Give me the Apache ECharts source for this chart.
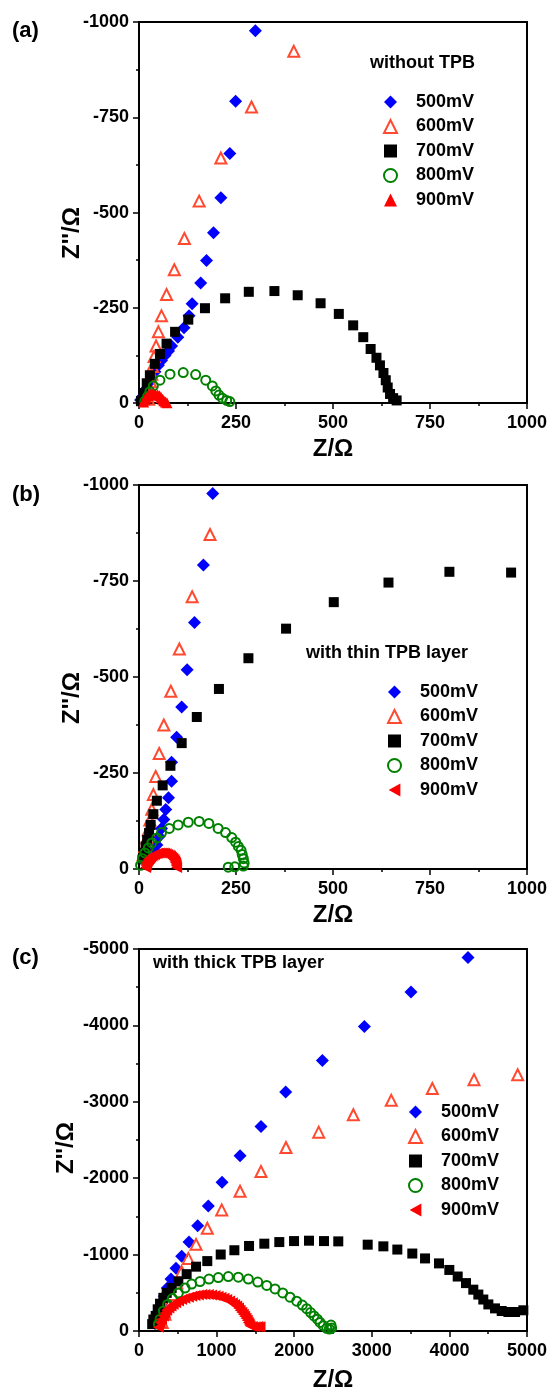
<!DOCTYPE html>
<html>
<head>
<meta charset="utf-8">
<script src="https://cdn.jsdelivr.net/npm/echarts@6/dist/echarts.min.js"></script>
<style>
html, body { margin: 0; padding: 0; background: #fff; }
.panel { position: absolute; left: 0; width: 551px; }
</style>
</head>
<body>
<div id="pa" class="panel" style="top:0;height:466px"></div>
<div id="pb" class="panel" style="top:466px;height:466px"></div>
<div id="pc" class="panel" style="top:932px;height:465px"></div>
<script>
// legend names
var names = ['500mV', '600mV', '700mV', '800mV', '900mV'];

// (a) without TPB  -- [Z', Z'']
var a500 = [[4,-8],[9,-17],[15,-34],[24,-52],[33,-69],[41,-82],[50,-99],[58,-112],[67,-125],[76,-137],[84,-150],[100,-173],[116,-198],[129,-229],[137,-261],[159,-315],[174,-374],[192,-447],[211,-539],[234,-655],[249,-792],[300,-977]];
var a600 = [[25,-10],[27,-25],[28,-40],[30,-56],[33,-76],[35,-96],[39,-122],[44,-150],[50,-187],[58,-229],[71,-285],[91,-350],[117,-432],[155,-530],[211,-643],[290,-777],[399,-923]];
var a700 = [[5,-5],[11,-26],[20,-52],[28,-73],[41,-103],[54,-129],[71,-156],[93,-187],[127,-219],[170,-249],[222,-275],[283,-292],[349,-294],[409,-283],[468,-262],[515,-234],[552,-204],[578,-173],[597,-142],[612,-119],[621,-99],[630,-79],[636,-60],[641,-41],[647,-24],[655,-13],[664,-7]];
var a800 = [[15,-5],[22,-17],[28,-30],[37,-45],[54,-60],[80,-76],[114,-80],[146,-75],[172,-60],[189,-45],[198,-32],[206,-21],[215,-13],[226,-7],[234,-4]];
var a900 = [[12,-3],[15,-9],[19,-14],[24,-19],[30,-22],[36,-24],[42,-24],[48,-22],[53,-19],[57,-15],[61,-10],[64,-6],[68,-3],[72,-1]];

// (b) with thin TPB layer
var b500 = [[24,-16],[33,-29],[39,-46],[46,-63],[52,-85],[58,-106],[64,-129],[69,-155],[76,-186],[84,-229],[84,-278],[97,-343],[110,-422],[124,-519],[143,-642],[166,-792],[190,-978]];
var b600 = [[11,-38],[15,-59],[20,-81],[24,-102],[28,-128],[33,-156],[37,-194],[43,-241],[52,-301],[64,-375],[82,-463],[104,-573],[137,-709],[183,-871]];
var b700 = [[9,-25],[13,-42],[17,-59],[21,-76],[26,-94],[30,-115],[37,-143],[46,-178],[61,-218],[81,-269],[110,-328],[149,-396],[206,-469],[282,-549],[379,-626],[502,-695],[643,-746],[800,-774],[959,-772]];
var b800 = [[4,-10],[9,-27],[15,-42],[24,-55],[33,-68],[46,-81],[58,-95],[78,-106],[101,-115],[127,-122],[155,-124],[180,-119],[204,-106],[223,-95],[239,-82],[249,-70],[256,-59],[263,-49],[266,-38],[269,-27],[271,-16],[269,-8],[247,-6],[230,-5]];
var b900 = [[17,-4],[18,-9],[19,-13],[20,-17],[22,-21],[24,-25],[27,-28],[30,-31],[33,-34],[36,-36],[40,-38],[44,-40],[48,-41],[52,-42],[57,-42],[62,-42],[66,-41],[70,-40],[74,-38],[78,-36],[81,-34],[84,-31],[87,-28],[90,-25],[92,-21],[94,-17],[95,-13],[96,-9],[97,-4]];

// (c) with thick TPB layer
var c500 = [[206,-99],[228,-177],[258,-262],[292,-357],[326,-455],[365,-563],[412,-679],[477,-821],[550,-979],[644,-1164],[756,-1379],[893,-1637],[1070,-1946],[1302,-2294],[1572,-2677],[1890,-3127],[2363,-3540],[2904,-3986],[3505,-4437],[4240,-4888]];
var c600 = [[300,-112],[335,-219],[378,-348],[429,-477],[486,-628],[550,-777],[635,-950],[735,-1134],[880,-1344],[1066,-1585],[1302,-1830],[1572,-2088],[1894,-2401],[2316,-2603],[2762,-2831],[3251,-3019],[3780,-3174],[4317,-3290],[4880,-3355]];
var c700 = [[170,-90],[185,-150],[215,-197],[241,-284],[271,-357],[314,-434],[357,-499],[421,-563],[507,-649],[614,-744],[735,-842],[880,-915],[1053,-1001],[1229,-1057],[1418,-1113],[1615,-1143],[1808,-1164],[1998,-1177],[2191,-1182],[2384,-1177],[2568,-1173],[2947,-1130],[3149,-1108],[3329,-1066],[3522,-1014],[3686,-950],[3866,-885],[3999,-799],[4107,-713],[4214,-627],[4308,-541],[4373,-477],[4437,-412],[4502,-348],[4588,-296],[4674,-262],[4760,-249],[4846,-249],[4953,-271]];
var c800 = [[250,-90],[271,-155],[314,-262],[369,-348],[429,-425],[507,-498],[593,-563],[679,-614],[786,-648],[902,-679],[1022,-700],[1151,-713],[1280,-705],[1409,-679],[1530,-640],[1646,-597],[1753,-550],[1852,-498],[1946,-442],[2032,-391],[2105,-339],[2161,-292],[2212,-241],[2255,-197],[2298,-155],[2333,-112],[2375,-69],[2419,-35],[2452,-26],[2474,-77],[2483,-39]];
var c900 = [[250,-50],[271,-112],[290,-150],[314,-197],[335,-235],[357,-271],[385,-300],[412,-326],[440,-350],[473,-369],[510,-392],[550,-412],[590,-428],[636,-442],[680,-455],[722,-464],[765,-472],[808,-477],[850,-478],[893,-477],[935,-472],[979,-464],[1020,-455],[1057,-442],[1095,-428],[1130,-412],[1168,-392],[1203,-369],[1232,-348],[1259,-326],[1282,-300],[1302,-271],[1325,-245],[1344,-219],[1362,-194],[1379,-168],[1395,-140],[1409,-112],[1420,-90],[1430,-69],[1460,-60],[1495,-56],[1530,-58],[1559,-56]];

var FONT = '"Liberation Sans", Arial, sans-serif';
var LEFT_TRI = 'path://M0,5L9,0L9,10Z';

function scatterSeries(data, idx, leftTri) {
    var s = { name: names[idx], type: 'scatter', data: data, animation: false };
    if (idx == 0) { s.symbol = 'diamond'; s.symbolSize = 13; s.itemStyle = { color: '#0000ff' }; }
    if (idx == 1) { s.symbol = 'triangle'; s.symbolSize = 11; s.itemStyle = { color: 'rgba(255,255,255,0)', borderColor: '#ff4a30', borderWidth: 2 }; }
    if (idx == 2) { s.symbol = 'rect'; s.symbolSize = 10; s.itemStyle = { color: '#000000' }; }
    if (idx == 3) { s.symbol = 'circle'; s.symbolSize = 9; s.itemStyle = { color: 'rgba(255,255,255,0)', borderColor: '#008000', borderWidth: 2 }; }
    if (idx == 4) { s.symbol = 'triangle'; s.symbolSize = 11; s.itemStyle = { color: '#ff0000' }; if (leftTri) s.symbolRotate = 90; }
    s.itemStyle.opacity = 1;
    return s;
}

function plainNum(v) { return String(v); }

function buildPanel(id, p) {
    var chart = echarts.init(document.getElementById(id));
    var series = [];
    for (var i = 0; i < p.data.length; i++) {
        series.push(scatterSeries(p.data[i], i, p.leftTri));
    }
    var legendData = [];
    for (var j = 0; j < names.length; j++) {
        var item = { name: names[j] };
        if (j == 4 && p.leftTri) item.icon = LEFT_TRI;
        legendData.push(item);
    }
    var tickLabel = { color: '#000', fontSize: 18, fontWeight: 'bold', fontFamily: FONT, formatter: plainNum };
    var option = {
        backgroundColor: '#fff',
        grid: { left: 139, top: p.top, width: 388, height: 388, show: true, borderColor: '#000', borderWidth: 2, backgroundColor: 'transparent' },
        xAxis: {
            type: 'value', min: 0, max: p.xMax, interval: p.xInt,
            name: 'Z/Ω', nameLocation: 'middle', nameGap: p.xNameGap,
            nameTextStyle: { color: '#000', fontSize: 24, fontWeight: 'bold', fontFamily: FONT },
            axisLine: { lineStyle: { color: '#000', width: 2 } },
            axisTick: { length: 6, lineStyle: { color: '#000', width: 1.5 } },
            minorTick: { show: true, splitNumber: 2, length: 3, lineStyle: { color: '#000', width: 1.5 } },
            splitLine: { show: false },
            axisLabel: Object.assign({ margin: 11 }, tickLabel)
        },
        yAxis: {
            type: 'value', min: p.yMin, max: 0, interval: p.yInt, inverse: true,
            axisLine: { lineStyle: { color: '#000', width: 2 } },
            axisTick: { length: 6, lineStyle: { color: '#000', width: 1.5 } },
            minorTick: { show: true, splitNumber: 2, length: 3, lineStyle: { color: '#000', width: 1.5 } },
            splitLine: { show: false },
            axisLabel: Object.assign({ margin: 10 }, tickLabel)
        },
        legend: {
            data: legendData, orient: 'vertical', left: p.legLeft, top: p.legTop,
            padding: 0, itemWidth: 13, itemHeight: 13, itemGap: 6.5,
            selectedMode: false,
            textStyle: { color: '#000', fontSize: 18, fontWeight: 'bold', fontFamily: FONT, padding: [0, 0, 0, 14] }
        },
        graphic: [
            { type: 'text', left: 12, top: p.labelTop, style: { text: p.label, fill: '#000', font: 'bold 22px ' + FONT } },
            { type: 'text', x: p.yNameX, y: p.yNameY, rotation: Math.PI / 2,
              style: { text: "Z''/Ω", fill: '#000', font: 'bold 24px ' + FONT, align: 'center', verticalAlign: 'middle' } },
            { type: 'text', x: p.noteX, y: p.noteY,
              style: { text: p.note, fill: '#000', font: 'bold 18px ' + FONT, align: 'left', verticalAlign: 'middle' } }
        ],
        series: series
    };
    chart.setOption(option);
}

buildPanel('pa', {
    label: '(a)', labelTop: 20, top: 22, xMax: 1000, xInt: 250, yMin: -1000, yInt: 250, xNameGap: 30,
    data: [a500, a600, a700, a800, a900], leftTri: false,
    legLeft: 383, legTop: 93, note: 'without TPB', noteX: 370, noteY: 63, yNameX: 72, yNameY: 233
});
buildPanel('pb', {
    label: '(b)', labelTop: 18, top: 19, xMax: 1000, xInt: 250, yMin: -1000, yInt: 250, xNameGap: 28,
    data: [b500, b600, b700, b800, b900], leftTri: true,
    legLeft: 387, legTop: 217, note: 'with thin TPB layer', noteX: 306, noteY: 187, yNameX: 72, yNameY: 232
});
buildPanel('pc', {
    label: '(c)', labelTop: 15, top: 17, xMax: 5000, xInt: 1000, yMin: -5000, yInt: 1000, xNameGap: 37,
    data: [c500, c600, c700, c800, c900], leftTri: true,
    legLeft: 408, legTop: 171, note: 'with thick TPB layer', noteX: 153, noteY: 31, yNameX: 66, yNameY: 216
});
</script>
</body>
</html>
